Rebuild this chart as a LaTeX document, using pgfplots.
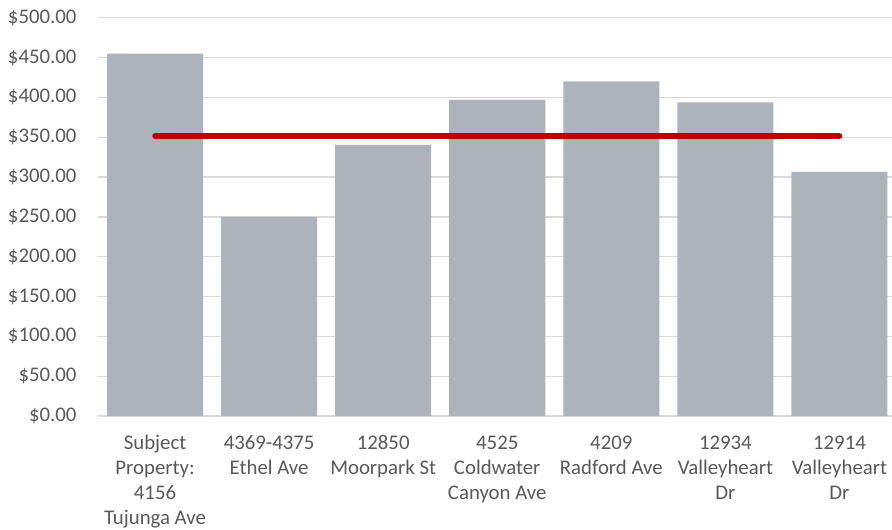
\documentclass[border=0pt]{standalone}
\usepackage{pgfplots}
\pgfplotsset{compat=1.18}
\usepackage{fontspec}
\setmainfont{Carlito}
\definecolor{barcol}{RGB}{173,179,186}
\definecolor{redline}{RGB}{192,0,0}
\definecolor{gridcol}{RGB}{217,217,217}
\definecolor{txt}{RGB}{89,89,89}
\begin{document}
\begin{tikzpicture}
\begin{axis}[
  at={(98bp,114bp)}, anchor=south west,
  scale only axis, width=798.5bp, height=398.3bp,
  xmin=-0.5, xmax=6.5, ymin=0, ymax=500,
  ytick={0,50,...,500},
  xtick={0,...,6},
  xticklabels={{Subject\\Property:\\4156\\Tujunga Ave},{4369-4375\\Ethel Ave},{12850\\Moorpark St},{4525\\Coldwater\\Canyon Ave},{4209\\Radford Ave},{12934\\Valleyheart\\Dr},{12914\\Valleyheart\\Dr}},
  ymajorgrids, grid style={draw=gridcol, line width=1.3bp},
  axis line style={draw=none},
  major tick length=0pt,
  /pgf/number format/assume math mode=true,
  ticklabel style={font=\fontsize{20.8bp}{25bp}\selectfont, text=txt},
  xticklabel style={align=center, anchor=north, yshift=-16bp},
  yticklabel style={anchor=east, xshift=-18bp},
  yticklabel={\$\pgfmathprintnumber[fixed,fixed zerofill,precision=2]{\tick}},
  clip=false,
]
\addplot[ybar, bar width=0.842, fill=barcol, draw=none] coordinates {
(0,455) (1,250) (2,340.4) (3,396.9) (4,420) (5,393.6) (6,306.5)};
\addplot[redline, line width=5.5bp, line cap=round, mark=none] coordinates {
(0,351.33) (1,351.33) (2,351.33) (3,351.33) (4,351.33) (5,351.33) (6,351.33)};
\end{axis}
\pgfresetboundingbox
\useasboundingbox (0,0) rectangle (892bp,530bp);
\end{tikzpicture}
\end{document}
